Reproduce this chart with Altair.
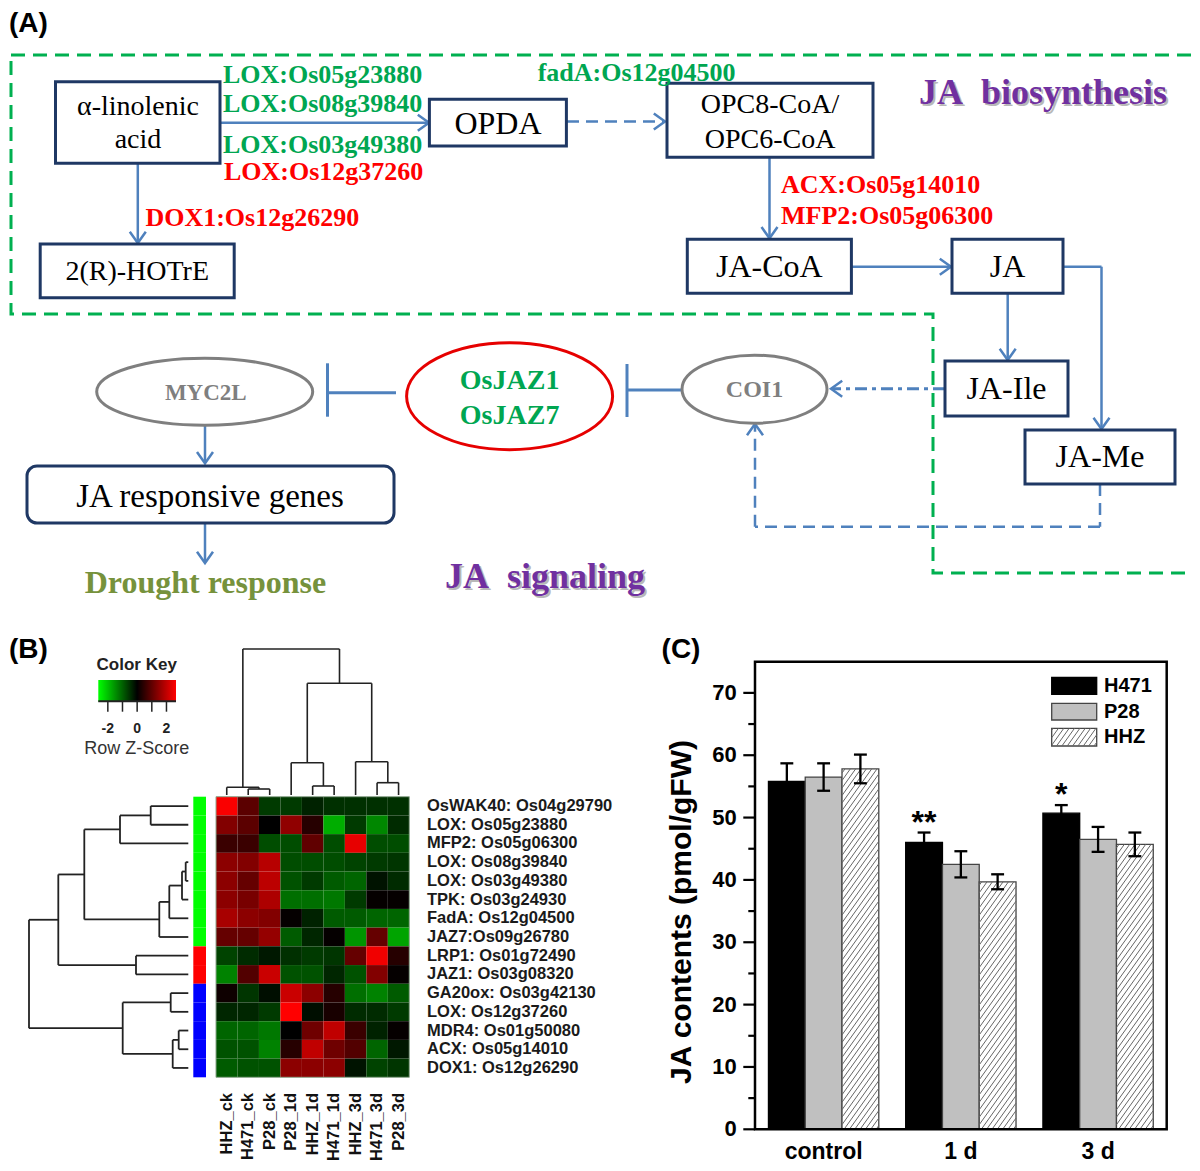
import altair as alt
import numpy as np
import pandas as pd

# ======================= DATA =======================
# ---- Panel C: JA contents ----
groups = ["control", "1 d", "3 d"]
series = ["H471", "P28", "HHZ"]
ja_h471 = [55.8, 46.0, 50.7]
ja_p28 = [56.5, 42.5, 46.5]
ja_hhz = [57.8, 39.7, 45.7]
se_h471 = [2.9, 1.6, 1.3]
se_p28 = [2.2, 2.1, 2.0]
se_hhz = [2.3, 1.2, 1.9]
signif_h471 = ["", "**", "*"]
y_major = [0, 10, 20, 30, 40, 50, 60, 70]
y_minor = [5, 15, 25, 35, 45, 55, 65]
y_domain_c = [0, 75]

# ---- Panel B: heatmap ----
samples = ["HHZ_ck", "H471_ck", "P28_ck", "P28_1d", "HHZ_1d", "H471_1d", "HHZ_3d", "H471_3d", "P28_3d"]
genes = ["OsWAK40: Os04g29790", "LOX: Os05g23880", "MFP2: Os05g06300", "LOX: Os08g39840",
         "LOX: Os03g49380", "TPK: Os03g24930", "FadA: Os12g04500", "JAZ7:Os09g26780",
         "LRP1: Os01g72490", "JAZ1: Os03g08320", "GA20ox: Os03g42130", "LOX: Os12g37260",
         "MDR4: Os01g50080", "ACX: Os05g14010", "DOX1: Os12g26290"]
gene_cluster_color = ["#00FF00"] * 8 + ["#FF0000"] * 2 + ["#0000FF"] * 5
z_OsWAK40 = [2.6, 0.95, -0.6, -0.6, -0.35, -0.5, -0.5, -0.5, -0.5]
z_LOX05 = [1.35, 0.95, 0.0, 1.5, 0.4, -1.8, -0.6, -1.4, -0.45]
z_MFP2 = [0.6, 0.6, -0.8, -0.8, 1.0, -0.8, 2.4, -0.8, -0.8]
z_LOX08 = [1.45, 1.35, 1.9, -0.8, -0.8, -0.8, -0.7, -0.6, -0.55]
z_LOX03 = [1.45, 1.05, 1.95, -0.85, -0.6, -0.95, -1.05, -0.2, -0.45]
z_TPK = [1.45, 1.25, 1.8, -1.15, -1.15, -1.25, -0.6, 0.05, 0.05]
z_FadA = [1.75, 1.45, 1.35, 0.05, -0.35, -0.95, -0.95, -1.05, -1.05]
z_JAZ7 = [1.05, 1.05, 1.55, -0.95, -0.4, 0.05, -1.55, 1.05, -1.7]
z_LRP1 = [-0.7, -0.45, -0.25, -0.5, -0.6, -0.55, 1.05, 2.5, 0.4]
z_JAZ1 = [-1.35, 0.85, 2.1, -0.85, -0.85, -0.4, -0.85, 1.35, 0.05]
z_GA20ox = [0.15, -0.55, -0.15, 2.1, 1.45, 0.4, -1.15, -1.35, -0.95]
z_LOX12 = [-0.4, -0.4, -0.6, 2.65, -0.15, 0.25, -0.45, -0.45, -0.6]
z_MDR4 = [-1.05, -1.05, -1.25, 0.0, 1.15, 2.0, 0.6, -0.35, 0.05]
z_ACX = [-0.85, -0.85, -1.35, 0.4, 2.0, 1.15, 0.85, -1.05, -0.25]
z_DOX1 = [-0.95, -0.85, -0.85, 1.45, 1.45, 1.45, -0.2, -0.7, -0.55]
z_rows = [z_OsWAK40, z_LOX05, z_MFP2, z_LOX08, z_LOX03, z_TPK, z_FadA, z_JAZ7,
          z_LRP1, z_JAZ1, z_GA20ox, z_LOX12, z_MDR4, z_ACX, z_DOX1]
# dendrogram merges (child a, child b, height); ids >= n are earlier merges
col_merges = [(1, 2, 6.0), (0, 9, 7.7), (4, 5, 9.0), (3, 11, 32.3), (7, 8, 12.3),
              (6, 13, 33.3), (12, 14, 111.7), (10, 15, 146.0)]
row_merges = [(0, 1, 37.6), (15, 2, 68.3), (3, 4, 2.6), (17, 5, 6.3), (18, 6, 19.0),
              (19, 7, 29.0), (16, 20, 104.0), (8, 9, 52.3), (21, 22, 130.0), (10, 11, 17.6),
              (12, 13, 9.6), (25, 14, 15.6), (24, 26, 65.6), (23, 27, 159.3)]
key_range = [-2.65, 2.65]
key_ticks = [-2, -1, 0, 1, 2]
key_labels = ["-2", "0", "2"]
key_label_pos = [-2, 0, 2]

# ======================= LAYOUT / STYLE =======================
W, H, M = 1184, 1160, 8
NAVY, BLUE = "#1F3864", "#4F81BD"
GREEN_T, RED_T, PURPLE, OLIVE, GRAY = "#00A651", "#FF0000", "#7030A0", "#76923C", "#7F7F7F"
SERIF, SANS = "Liberation Serif", "Liberation Sans"


def rg(a, b):
    return [a - M, b - M]


def sx():
    return alt.Scale(domain=[M, M + W], range=[0, W], zero=False, nice=False)


def sy():
    return alt.Scale(domain=[M, M + H], range=[0, H], zero=False, nice=False)


def X(f):
    return alt.X(f, type="quantitative", scale=sx(), axis=None)


def Y(f):
    return alt.Y(f, type="quantitative", scale=sy(), axis=None)


def v(p):
    return alt.value(p - M)


def hatch(xl, xr, lo, hi, rise, step):
    out = []
    w = xr - xl
    for t in np.arange(lo - rise + step * 0.5, hi, step):
        x0, y0, x1, y1 = xl, t, xr, t + rise
        if y0 < lo:
            x0 = xl + (lo - t) / rise * w
            y0 = lo
        if y1 > hi:
            x1 = xl + (hi - t) / rise * w
            y1 = hi
        if x1 - x0 > 1e-6:
            out.append((float(x0), float(y0), float(x1), float(y1)))
    return out


def ellipse_path(rx, ry):
    k = 0.5523
    return (f"M {rx} 0 C {rx} {k*ry:.2f} {k*rx:.2f} {ry} 0 {ry} C {-k*rx:.2f} {ry} {-rx} {k*ry:.2f} {-rx} 0 "
            f"C {-rx} {-k*ry:.2f} {-k*rx:.2f} {-ry} 0 {-ry} C {k*rx:.2f} {-ry} {rx} {-k*ry:.2f} {rx} 0 Z")


def text_layers(rows):
    df = pd.DataFrame(rows, columns=["t", "x", "y", "s", "c", "font", "w", "align", "angle"])
    out = []
    for (font, w, align, angle), sub in df.groupby(["font", "w", "align", "angle"]):
        out.append(alt.Chart(sub.reset_index(drop=True)).mark_text(
            font=font, fontWeight=w, align=align, baseline="middle", angle=float(angle)).encode(
            x=X("x"), y=Y("y"), text="t:N",
            size=alt.Size("s:Q", scale=None, legend=None), color=alt.Color("c:N", scale=None, legend=None)))
    return out


# ======================= PANEL A (pixel layout) =======================
boundary = pd.DataFrame({"x": [11, 1197, 1197, 933, 933, 11, 11],
                         "y": [55, 55, 573, 573, 314, 314, 55], "o": list(range(7))})
L_bound = alt.Chart(boundary).mark_line(color="#00B050", strokeWidth=3, strokeDash=[14, 8]).encode(
    x=X("x"), y=Y("y"), order="o:Q")

boxes = pd.DataFrame({
    "x1": [55.5, 429.4, 667, 40.2, 687.3, 952, 945, 1025],
    "x2": [220, 566.4, 873, 234.2, 851.4, 1063, 1068, 1175],
    "y1": [81.7, 99.3, 83.3, 244, 239.3, 239.3, 361, 430],
    "y2": [163.3, 146, 157.3, 297.7, 293.3, 293.3, 416, 484]})
L_boxes = alt.Chart(boxes).mark_rect(fill="white", stroke=NAVY, strokeWidth=3).encode(
    x=X("x1"), x2="x2:Q", y=Y("y1"), y2="y2:Q")
rbox = pd.DataFrame({"x1": [27], "x2": [394], "y1": [466], "y2": [523]})
L_rbox = alt.Chart(rbox).mark_rect(fill="white", stroke=NAVY, strokeWidth=3, cornerRadius=10).encode(
    x=X("x1"), x2="x2:Q", y=Y("y1"), y2="y2:Q")

solid = pd.DataFrame([
    (220, 122.7, 428, 122.7), (137.8, 163.3, 137.8, 242), (769.5, 157.3, 769.5, 237.5),
    (851.4, 266.7, 950, 266.7), (1007.7, 293.3, 1007.7, 359), (1063, 266.7, 1101.5, 266.7),
    (1101.5, 266.7, 1101.5, 428), (205, 426, 205, 462.5), (205, 523, 205, 562)],
    columns=["x1", "y1", "x2", "y2"])
L_solid = alt.Chart(solid).mark_rule(color=BLUE, strokeWidth=2.5).encode(
    x=X("x1"), y=Y("y1"), x2="x2:Q", y2="y2:Q")
inhib = pd.DataFrame([
    (681, 390, 627, 390), (627, 364, 627, 417), (396, 392.7, 327.5, 392.7), (327.5, 363.3, 327.5, 416.7)],
    columns=["x1", "y1", "x2", "y2"])
L_inhib = alt.Chart(inhib).mark_rule(color=BLUE, strokeWidth=3).encode(
    x=X("x1"), y=Y("y1"), x2="x2:Q", y2="y2:Q")
dashed = pd.DataFrame([
    (567, 121.5, 664, 121.5), (1100, 484, 1100, 526.7), (1100, 526.7, 755, 526.7), (755, 526.7, 755, 425)],
    columns=["x1", "y1", "x2", "y2"])
L_dashed = alt.Chart(dashed).mark_rule(color=BLUE, strokeWidth=2.5, strokeDash=[12, 7]).encode(
    x=X("x1"), y=Y("y1"), x2="x2:Q", y2="y2:Q")
dashdot = pd.DataFrame([(945, 388.7, 832, 388.7)], columns=["x1", "y1", "x2", "y2"])
L_dashdot = alt.Chart(dashdot).mark_rule(color=BLUE, strokeWidth=3, strokeDash=[12, 5, 4, 5]).encode(
    x=X("x1"), y=Y("y1"), x2="x2:Q", y2="y2:Q")

heads = pd.DataFrame([
    (429, 122.7, 0), (137.8, 243, 90), (769.5, 238.3, 90), (951, 266.7, 0), (1007.7, 360, 90),
    (1101.5, 429, 90), (205, 463.3, 90), (205, 563, 90), (665, 121.5, 0), (755, 424, 270),
    (831, 388.7, 180)], columns=["x", "y", "a"])
L_heads = alt.Chart(heads).mark_point(shape="M -1.4 -1 L 0 0 L -1.4 1", size=256, filled=False,
                                      color=BLUE, strokeWidth=2.5, opacity=1).encode(
    x=X("x"), y=Y("y"), angle=alt.Angle("a:Q", scale=None, legend=None))

ell = pd.DataFrame({"x": [204.7, 509.6, 754.5], "y": [391.7, 396.2, 389.2],
                    "rx": [108, 103, 72.5], "ry": [33.5, 53.5, 34],
                    "c": [GRAY, "#E60000", GRAY]})
ell["path"] = [ellipse_path(a, b) for a, b in zip(ell["rx"], ell["ry"])]
L_ell = alt.Chart(ell).mark_point(size=4, filled=False, strokeWidth=3, opacity=1).encode(
    x=X("x"), y=Y("y"), shape=alt.Shape("path:N", scale=None, legend=None),
    color=alt.Color("c:N", scale=None, legend=None))

NB = "\u00a0"
SHADOW = "#B8B8B8"
texts = [
    ("(A)", 9, 24, 28, "black", SANS, "bold", "left", 0),
    ("(B)", 9, 650, 28, "black", SANS, "bold", "left", 0),
    ("(C)", 681, 650, 28, "black", SANS, "bold", "center", 0),
    ("α-linolenic", 138, 107.3, 28, "black", SERIF, "normal", "center", 0),
    ("acid", 138, 140, 28, "black", SERIF, "normal", "center", 0),
    ("OPDA", 498, 123.5, 32, "black", SERIF, "normal", "center", 0),
    ("OPC8-CoA/", 770, 105, 28, "black", SERIF, "normal", "center", 0),
    ("OPC6-CoA", 770, 140, 28, "black", SERIF, "normal", "center", 0),
    ("2(R)-HOTrE", 137.2, 272, 28, "black", SERIF, "normal", "center", 0),
    ("JA-CoA", 769.3, 266.7, 32, "black", SERIF, "normal", "center", 0),
    ("JA", 1007.5, 266.7, 32, "black", SERIF, "normal", "center", 0),
    ("JA-Ile", 1006.5, 389, 32, "black", SERIF, "normal", "center", 0),
    ("JA-Me", 1100, 457, 32, "black", SERIF, "normal", "center", 0),
    ("JA responsive genes", 210, 497, 33, "black", SERIF, "normal", "center", 0),
    ("LOX:Os05g23880", 223, 75, 26, GREEN_T, SERIF, "bold", "left", 0),
    ("LOX:Os08g39840", 223, 104.3, 26, GREEN_T, SERIF, "bold", "left", 0),
    ("LOX:Os03g49380", 223, 145, 26, GREEN_T, SERIF, "bold", "left", 0),
    ("LOX:Os12g37260", 224, 171.7, 26, RED_T, SERIF, "bold", "left", 0),
    ("fadA:Os12g04500", 537.7, 73.3, 26, GREEN_T, SERIF, "bold", "left", 0),
    ("DOX1:Os12g26290", 145.4, 218.3, 26, RED_T, SERIF, "bold", "left", 0),
    ("ACX:Os05g14010", 781, 185, 26, RED_T, SERIF, "bold", "left", 0),
    ("MFP2:Os05g06300", 781, 216, 26, RED_T, SERIF, "bold", "left", 0),
    ("MYC2L", 205.8, 392.7, 23, GRAY, SERIF, "bold", "center", 0),
    ("COI1", 754.5, 390, 24, GRAY, SERIF, "bold", "center", 0),
    ("OsJAZ1", 509.6, 381, 28, GREEN_T, SERIF, "bold", "center", 0),
    ("OsJAZ7", 509.6, 415.7, 28, GREEN_T, SERIF, "bold", "center", 0),
    ("Drought response", 205.4, 582.7, 32, OLIVE, SERIF, "bold", "center", 0),
    ("JA" + NB + " biosynthesis", 1045, 95.3, 36, SHADOW, SERIF, "bold", "center", 0),
    ("JA" + NB + " signaling", 547, 578.7, 36, SHADOW, SERIF, "bold", "center", 0),
    ("JA" + NB + " biosynthesis", 1043, 93.3, 36, PURPLE, SERIF, "bold", "center", 0),
    ("JA" + NB + " signaling", 545, 576.7, 36, PURPLE, SERIF, "bold", "center", 0),
    ("Color Key", 136.7, 665, 17, "#222222", SANS, "bold", "center", 0),
    ("Row Z-Score", 136.7, 748.5, 18, "#333333", SANS, "normal", "center", 0),
    ("JA contents (pmol/gFW)", 681.7, 912, 30, "black", SANS, "bold", "center", 270),
]
shadow_rows = [t for t in texts if t[4] == SHADOW]
other_rows = [t for t in texts if t[4] != SHADOW]

# Panel C legend (pixel layout)
leg = pd.DataFrame({"s": series, "x1": [1051.7] * 3, "x2": [1096.7] * 3,
                    "y1": [677.3, 703.3, 728.3], "y2": [694.3, 720, 746],
                    "fill": ["#000000", "#C0C0C0", "#FFFFFF"], "stroke": ["#000000", "#444444", "#444444"]})
L_legbox = alt.Chart(leg).mark_rect(strokeWidth=1.3).encode(
    x=X("x1"), x2="x2:Q", y=Y("y1"), y2="y2:Q",
    fill=alt.Fill("fill:N", scale=None, legend=None), stroke=alt.Stroke("stroke:N", scale=None, legend=None))
hh = leg.iloc[2]
lh = hatch(float(hh.x1), float(hh.x2), -float(hh.y2), -float(hh.y1), 1.4 * float(hh.x2 - hh.x1), 7.5)
leg_hatch = pd.DataFrame([(a, -b, c, -d) for a, b, c, d in lh], columns=["x1", "y1", "x2", "y2"])
L_leghatch = alt.Chart(leg_hatch).mark_rule(color="#666666", strokeWidth=1).encode(
    x=X("x1"), y=Y("y1"), x2="x2:Q", y2="y2:Q")
leg["lx"] = 1104
leg["ly"] = (leg["y1"] + leg["y2"]) / 2
L_legtxt = alt.Chart(leg).mark_text(font=SANS, fontWeight="bold", fontSize=20, align="left",
                                    baseline="middle", color="black").encode(
    x=X("lx"), y=Y("ly"), text="s:N")

pixel = alt.layer(L_bound, L_solid, L_inhib, L_dashed, L_dashdot, L_heads, L_boxes, L_rbox, L_ell,
                  *text_layers(shadow_rows), *text_layers(other_rows),
                  L_legbox, L_leghatch, L_legtxt)

# ======================= PANEL B =======================
kx = alt.Scale(domain=key_range, range=rg(98.3, 176), zero=False, nice=False)
grad = alt.LinearGradient(gradient="linear", x1=0, x2=1, y1=0, y2=0,
                          stops=[alt.GradientStop(color="#00FF00", offset=0),
                                 alt.GradientStop(color="#000000", offset=0.5),
                                 alt.GradientStop(color="#FF0000", offset=1)])
kbar = pd.DataFrame({"a": [key_range[0]], "b": [key_range[1]]})
K_bar = alt.Chart(kbar).mark_rect(fill=grad).encode(
    x=alt.X("a:Q", scale=kx, axis=None), x2="b:Q", y=v(680), y2=v(701.7))
K_base = alt.Chart(kbar).mark_rule(color="#222222", strokeWidth=2).encode(
    x=alt.X("a:Q", scale=kx, axis=None), x2="b:Q", y=v(701.2))
K_ticks = alt.Chart(pd.DataFrame({"t": key_ticks})).mark_rule(color="#222222", strokeWidth=1.5).encode(
    x=alt.X("t:Q", scale=kx, axis=None), y=v(701.7), y2=v(711.7))
K_lab = alt.Chart(pd.DataFrame({"t": key_label_pos, "lab": key_labels})).mark_text(
    font=SANS, fontWeight="bold", fontSize=14, color="#222222", baseline="middle").encode(
    x=alt.X("t:Q", scale=kx, axis=None), y=v(729), text="lab:N")
key = alt.layer(K_bar, K_base, K_ticks, K_lab)


def dendro(n, merges):
    pos = {i: i + 0.5 for i in range(n)}
    hgt = {i: 0.0 for i in range(n)}
    segs = []
    for k, (a, b, h) in enumerate(merges):
        for c in (a, b):
            segs.append((pos[c], pos[c], hgt[c], h))
        segs.append((pos[a], pos[b], h, h))
        pos[n + k] = (pos[a] + pos[b]) / 2
        hgt[n + k] = h
    return pd.DataFrame(segs, columns=["p1", "p2", "h1", "h2"])


cd = dendro(len(samples), col_merges)
cdx = alt.Scale(domain=[0, len(samples)], range=rg(216, 409.3), zero=False, nice=False)
cdy = alt.Scale(domain=[0, col_merges[-1][2]], range=rg(795, 649), zero=False, nice=False)
cdend = alt.Chart(cd).mark_rule(color="#222222", strokeWidth=1.6).encode(
    x=alt.X("p1:Q", scale=cdx, axis=None), x2="p2:Q",
    y=alt.Y("h1:Q", scale=cdy, axis=None), y2="h2:Q")

rd = dendro(len(genes), row_merges)
rdx = alt.Scale(domain=[0, row_merges[-1][2]], range=rg(188.3, 29), zero=False, nice=False)
rdy = alt.Scale(domain=[0, len(genes)], range=rg(796.7, 1077.3), zero=False, nice=False)
rdend = alt.Chart(rd).mark_rule(color="#222222", strokeWidth=1.8).encode(
    x=alt.X("h1:Q", scale=rdx, axis=None), x2="h2:Q",
    y=alt.Y("p1:Q", scale=rdy, axis=None), y2="p2:Q")


def hx():
    return alt.Scale(type="band", domain=samples, range=rg(216, 409.3), paddingInner=0, paddingOuter=0)


def hy():
    return alt.Scale(type="band", domain=genes, range=rg(796.7, 1077.3), paddingInner=0, paddingOuter=0)


cells = pd.DataFrame([(g, s, z_rows[i][j]) for i, g in enumerate(genes) for j, s in enumerate(samples)],
                     columns=["gene", "sample", "z"])
H_cells = alt.Chart(cells).mark_rect().encode(
    x=alt.X("sample:N", scale=hx(), axis=None), y=alt.Y("gene:N", scale=hy(), axis=None),
    color=alt.Color("z:Q", legend=None,
                    scale=alt.Scale(domain=[key_range[0], 0, key_range[1]],
                                    range=["#00FF00", "#000000", "#FF0000"], interpolate="rgb", clamp=True)))
H_border = alt.Chart(pd.DataFrame({"a": [0]})).mark_rect(fillOpacity=0, stroke="#8FA88F", strokeWidth=1).encode(
    x=v(216), x2=v(409.3), y=v(796.7), y2=v(1077.3))
gdf = pd.DataFrame({"gene": genes, "col": gene_cluster_color})
H_rowlab = alt.Chart(gdf).mark_text(font=SANS, fontWeight="bold", fontSize=16.5, align="left",
                                    baseline="middle", color="#1A1A1A").encode(
    y=alt.Y("gene:N", scale=hy(), axis=None), x=v(427), text="gene:N")
H_collab = alt.Chart(pd.DataFrame({"sample": samples})).mark_text(
    font=SANS, fontWeight="bold", fontSize=16.5, align="right", baseline="middle", angle=270,
    color="#111111").encode(
    x=alt.X("sample:N", scale=hx(), axis=None), y=v(1093), text="sample:N")
heat = alt.layer(H_cells, H_border, H_rowlab, H_collab)

# side colour bar: its own group so its raw colours never meet the heatmap colour scale
side = alt.Chart(gdf).mark_rect().encode(
    y=alt.Y("gene:N", scale=hy(), axis=None), x=v(193.3), x2=v(206),
    fill=alt.Fill("col:N", scale=None, legend=None))

# ======================= PANEL C =======================
bx = alt.Scale(domain=[0, len(groups)], range=rg(755, 1166.7), zero=False, nice=False)
by = alt.Scale(domain=y_domain_c, range=rg(1129.3, 661.7), zero=False, nice=False)
BW = 0.268
CAP = 0.047
vals = {"H471": ja_h471, "P28": ja_p28, "HHZ": ja_hhz}
errs = {"H471": se_h471, "P28": se_p28, "HHZ": se_hhz}
rows = []
for gi, g in enumerate(groups):
    for si, s in enumerate(series):
        xc = gi + 0.5 + (si - 1) * BW
        val, e = vals[s][gi], errs[s][gi]
        rows.append(dict(group=g, series=s, xc=xc, x0=xc - BW / 2, x1=xc + BW / 2, base=0.0,
                         v=val, lo=val - e, hi=val + e, cl=xc - CAP, cr=xc + CAP,
                         star=signif_h471[gi] if s == "H471" else ""))
bars = pd.DataFrame(rows)


def XB(f):
    return alt.X(f, type="quantitative", scale=bx, axis=None)


def YB(f):
    return alt.Y(f, type="quantitative", scale=by, axis=None)


C_bars = alt.Chart(bars).mark_rect(strokeWidth=1.3).encode(
    x=XB("x0"), x2="x1:Q", y=YB("base"), y2="v:Q",
    fill=alt.Fill("series:N", legend=None, scale=alt.Scale(domain=series, range=["#000000", "#C0C0C0", "#FFFFFF"])),
    stroke=alt.Stroke("series:N", legend=None, scale=alt.Scale(domain=series, range=["#000000", "#444444", "#444444"])))
hrows = []
for _, r in bars[bars.series == "HHZ"].iterrows():
    hrows += hatch(float(r.x0), float(r.x1), 0.0, float(r.v), 8.26, 1.2)
C_hatch = alt.Chart(pd.DataFrame(hrows, columns=["x1", "y1", "x2", "y2"])).mark_rule(
    color="#666666", strokeWidth=1).encode(x=XB("x1"), x2="x2:Q", y=YB("y1"), y2="y2:Q")
C_err = alt.Chart(bars).mark_rule(color="black", strokeWidth=2.3).encode(x=XB("xc"), y=YB("lo"), y2="hi:Q")
C_capt = alt.Chart(bars).mark_rule(color="black", strokeWidth=2.3).encode(x=XB("cl"), x2="cr:Q", y=YB("hi"))
C_capb = alt.Chart(bars).mark_rule(color="black", strokeWidth=2.3).encode(x=XB("cl"), x2="cr:Q", y=YB("lo"))
C_star = alt.Chart(bars[bars.star != ""].reset_index(drop=True)).mark_text(
    font=SANS, fontWeight="bold", fontSize=32, baseline="alphabetic", color="black").encode(
    x=XB("xc"), y=YB("hi"), text="star:N")
frame = pd.DataFrame({"a": [0], "b": [len(groups)], "c": [y_domain_c[0]], "d": [y_domain_c[1]]})
C_frame = alt.Chart(frame).mark_rect(fillOpacity=0, stroke="black", strokeWidth=2.5).encode(
    x=XB("a"), x2="b:Q", y=YB("c"), y2="d:Q")
C_major = alt.Chart(pd.DataFrame({"t": y_major})).mark_rule(color="black", strokeWidth=2.2).encode(
    y=YB("t"), x=v(743.3), x2=v(755))
C_minor = alt.Chart(pd.DataFrame({"t": y_minor})).mark_rule(color="black", strokeWidth=2.2).encode(
    y=YB("t"), x=v(748.3), x2=v(755))
C_ylab = alt.Chart(pd.DataFrame({"t": y_major})).mark_text(
    font=SANS, fontWeight="bold", fontSize=22, align="right", baseline="middle", color="black").encode(
    y=YB("t"), x=v(736.7), text="t:Q")
gdf_c = pd.DataFrame({"g": groups, "c": [i + 0.5 for i in range(len(groups))]})
C_xlab = alt.Chart(gdf_c).mark_text(
    font=SANS, fontWeight="bold", fontSize=23, align="center", baseline="middle", color="black").encode(
    x=XB("c"), y=v(1152), text="g:N")
barsc = alt.layer(C_bars, C_hatch, C_err, C_capt, C_capb, C_star, C_frame, C_major, C_minor, C_ylab, C_xlab)

chart = alt.layer(pixel, key, rdend, cdend, heat, side, barsc).resolve_scale(
    x="independent", y="independent", color="independent", fill="independent", stroke="independent"
).properties(width=W, height=H, padding=0, autosize=alt.AutoSizeParams(type="none")
).configure_view(strokeWidth=0)

chart.save("out.html", embed_options={"renderer": "svg", "actions": False})
